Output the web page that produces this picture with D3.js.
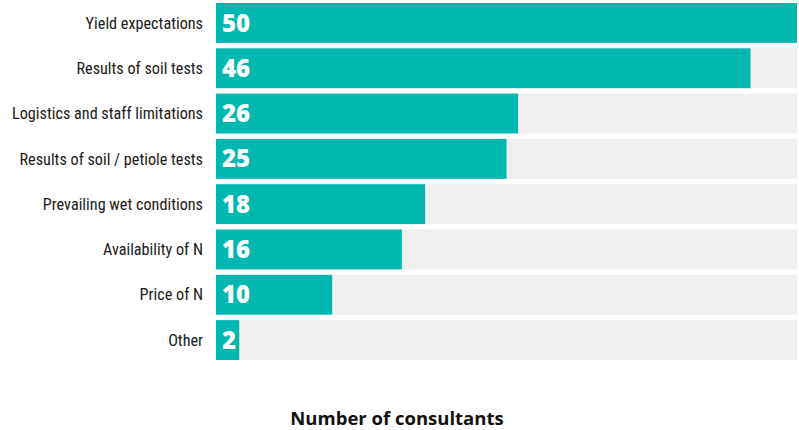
<!DOCTYPE html>
<html>
<head>
<meta charset="utf-8">
<script src="https://cdn.jsdelivr.net/npm/d3@7"></script>
<style>
body { margin: 0; background: #fff; }
svg { display: block; }
</style>
</head>
<body>
<div id="chart"></div>
<script>
// chart values
var categories = ["Yield expectations", "Results of soil tests", "Logistics and staff limitations",
	"Results of soil / petiole tests", "Prevailing wet conditions", "Availability of N", "Price of N", "Other"];
var counts = [50, 46, 26, 25, 18, 16, 10, 2];
var maxCount = 50;
var axisTitle = "Number of consultants";

var width = 799, height = 430;
var margin = {top: 3, right: 2, bottom: 70, left: 216};

var svg = d3.select("#chart").append("svg")
	.attr("width", width)
	.attr("height", height);

var x = d3.scaleLinear()
	.domain([0, maxCount])
	.range([margin.left, width - margin.right]);

var y = d3.scaleBand()
	.domain(categories)
	.range([margin.top, 360])
	.paddingInner(0.12)
	.paddingOuter(0);

var rows = svg.selectAll(".row")
	.data(categories.map((c, i) => ({cat: c, val: counts[i]})))
	.enter().append("g")
	.attr("class", "row");

// grey track behind each bar
rows.append("rect")
	.attr("x", x(0))
	.attr("y", d => y(d.cat))
	.attr("width", x(maxCount) - x(0))
	.attr("height", y.bandwidth())
	.style("fill", "#f0f0f0");

rows.append("rect")
	.attr("x", x(0))
	.attr("y", d => y(d.cat))
	.attr("width", d => x(d.val) - x(0))
	.attr("height", y.bandwidth())
	.style("fill", "#00b8b0");

rows.append("text")
	.attr("x", x(0) - 13)
	.attr("y", d => y(d.cat) + y.bandwidth() / 2)
	.attr("dy", "0.35em")
	.attr("text-anchor", "end")
	.style("font-family", "'Liberation Sans Narrow', 'Roboto Condensed', sans-serif")
	.style("font-size", "16.2px")
	.style("fill", "#1a1a1a")
	.text(d => d.cat);

rows.append("text")
	.attr("x", x(0) + 6)
	.attr("y", d => y(d.cat) + y.bandwidth() / 2)
	.attr("dy", "0.36em")
	.style("font-family", "'Open Sans', sans-serif")
	.style("font-weight", "800")
	.style("font-size", "24px")
	.style("fill", "#fff")
	.text(d => d.val);

svg.append("text")
	.attr("x", 397)
	.attr("y", 425)
	.attr("text-anchor", "middle")
	.style("font-family", "'Open Sans', sans-serif")
	.style("font-weight", "bold")
	.style("font-size", "18.5px")
	.style("fill", "#111")
	.text(axisTitle);
</script>
</body>
</html>
